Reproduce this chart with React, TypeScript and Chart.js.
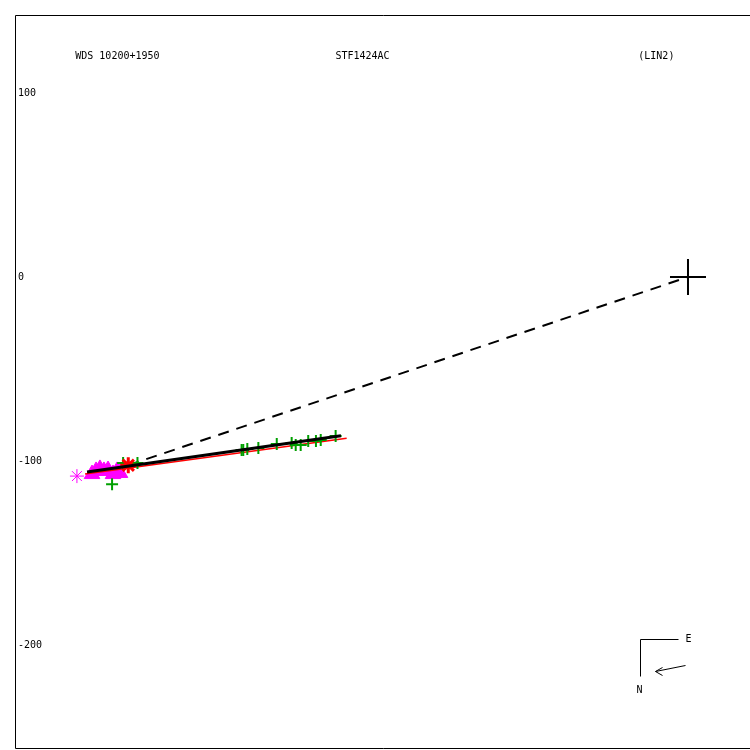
import React, { useEffect, useRef } from "react";
import { Chart, registerables } from "chart.js";

Chart.register(...registerables);

const HEADER_TEXTS = ["WDS 10200+1950", "STF1424AC", "(LIN2)"];
const Y_TICKS = [100, 0, -100, -200];

const PRIMARY = [{ x: 0, y: 0 }];
const FIRST_OBS = [{ x: -332.1, y: -108.2 }];
const MAGENTA_TRI = [
  { x: -323.9, y: -107.1 },
  { x: -321.7, y: -105.4 },
  { x: -319.6, y: -104.3 },
  { x: -317.4, y: -105.4 },
  { x: -315.2, y: -104.9 },
  { x: -312.5, y: -107.1 },
  { x: -310.3, y: -105.4 },
  { x: -308.7, y: -106.5 },
];
const RED_STAR = [{ x: -304.2, y: -102.3 }];
const GREEN_CROSS = [
  { x: -313.0, y: -112.7 },
  { x: -307.0, y: -101.1 },
  { x: -299.2, y: -101.1 },
  { x: -242.6, y: -94.0 },
  { x: -241.7, y: -94.0 },
  { x: -239.5, y: -93.5 },
  { x: -233.5, y: -92.9 },
  { x: -223.5, y: -90.8 },
  { x: -215.4, y: -90.2 },
  { x: -213.2, y: -91.3 },
  { x: -210.5, y: -91.3 },
  { x: -206.4, y: -89.1 },
  { x: -202.2, y: -89.1 },
  { x: -199.6, y: -88.6 },
  { x: -191.5, y: -86.4 },
];
const FIT_LINE = [
  { x: -326.6, y: -106.0 },
  { x: -188.6, y: -86.3 },
];
const RED_LINE = [
  { x: -327.7, y: -107.1 },
  { x: -185.5, y: -87.6 },
];
const DASHED_LINE = [
  { x: -304.2, y: -102.3 },
  { x: 0, y: 0 },
];
const COMPASS_ORIGIN = { x: -26.1, y: -196.7 };

const X_MIN = -365.76;
const X_MAX = 33.7;
const Y_MIN = -256.52;
const Y_MAX = 142.39;

const FONT = "10px 'DejaVu Sans Mono', monospace";

const framePlugin = {
  id: "frame",
  afterDraw(chart: any) {
    const { ctx, chartArea } = chart;
    const xs = chart.scales.x;
    const ys = chart.scales.y;
    ctx.save();
    ctx.strokeStyle = "#000";
    ctx.lineWidth = 1;
    ctx.beginPath();
    ctx.moveTo(chartArea.right + 2, chartArea.top + 0.5);
    ctx.lineTo(chartArea.left + 0.5, chartArea.top + 0.5);
    ctx.lineTo(chartArea.left + 0.5, chartArea.bottom - 0.5);
    ctx.lineTo(chartArea.right + 2, chartArea.bottom - 0.5);
    ctx.stroke();

    // header texts
    ctx.fillStyle = "#000";
    ctx.font = FONT;
    ctx.textBaseline = "middle";
    ctx.textAlign = "left";
    const w = chartArea.right - chartArea.left;
    const fr = [0.082, 0.436, 0.848];
    HEADER_TEXTS.forEach((t, i) => {
      ctx.fillText(t, chartArea.left + fr[i] * w, chartArea.top + 41);
    });

    // compass
    const ox = Math.round(xs.getPixelForValue(COMPASS_ORIGIN.x)) + 0.5;
    const oy = Math.round(ys.getPixelForValue(COMPASS_ORIGIN.y)) + 0.5;
    ctx.beginPath();
    ctx.moveTo(ox + 38, oy);
    ctx.lineTo(ox, oy);
    ctx.lineTo(ox, oy + 37);
    ctx.stroke();
    ctx.beginPath();
    ctx.moveTo(ox + 45, oy + 26);
    ctx.lineTo(ox + 15, oy + 32);
    ctx.moveTo(ox + 22, oy + 28);
    ctx.lineTo(ox + 15, oy + 32);
    ctx.lineTo(ox + 22, oy + 36);
    ctx.stroke();
    ctx.fillText("E", ox + 45, oy);
    ctx.fillText("N", ox - 4, oy + 51);
    ctx.restore();
  },
};

export default function App() {
  const ref = useRef<HTMLCanvasElement | null>(null);
  useEffect(() => {
    if (!ref.current) return;
    const chart = new Chart(ref.current, {
      type: "scatter",
      data: {
        datasets: [
          {
            data: FIT_LINE,
            showLine: true,
            borderColor: "#000",
            borderWidth: 3,
            pointRadius: 0,
            order: 0,
          },
          {
            data: RED_STAR,
            pointStyle: "star",
            pointRadius: 8,
            borderColor: "#ff0000",
            backgroundColor: "#ff0000",
            borderWidth: 3,
            order: 1,
          },
          {
            data: GREEN_CROSS,
            pointStyle: "cross",
            pointRadius: 6,
            borderColor: "#00a000",
            borderWidth: 2,
            order: 2,
          },
          {
            data: RED_LINE,
            showLine: true,
            borderColor: "#ff0000",
            borderWidth: 1.5,
            pointRadius: 0,
            order: 3,
          },
          {
            data: MAGENTA_TRI,
            pointStyle: "triangle",
            pointRadius: 9,
            borderColor: "#ff00ff",
            backgroundColor: "#ff00ff",
            borderWidth: 1,
            order: 4,
          },
          {
            data: FIRST_OBS,
            pointStyle: "star",
            pointRadius: 7,
            borderColor: "#ff00ff",
            borderWidth: 1,
            order: 4,
          },
          {
            data: DASHED_LINE,
            showLine: true,
            borderColor: "#000",
            borderWidth: 2,
            borderDash: [11, 8],
            pointRadius: 0,
            order: 5,
          },
          {
            data: PRIMARY,
            pointStyle: "cross",
            pointRadius: 18,
            borderColor: "#000",
            borderWidth: 2,
            order: 5,
          },
        ],
      },
      options: {
        responsive: false,
        animation: false,
        devicePixelRatio: 1,
        layout: { autoPadding: false, padding: { left: 15, top: 15, right: 0, bottom: 1 } },
        plugins: {
          legend: { display: false },
          tooltip: { enabled: false },
          title: { display: false },
        },
        scales: {
          x: { type: "linear", display: false, min: X_MIN, max: X_MAX },
          y: {
            type: "linear",
            min: Y_MIN,
            max: Y_MAX,
            grid: { display: false, drawTicks: false },
            border: { display: false },
            afterFit: (s: any) => {
              s.width = 0;
              s.paddingTop = 0;
              s.paddingBottom = 0;
              s.paddingLeft = 0;
              s.paddingRight = 0;
            },
            afterBuildTicks: (s: any) => {
              s.ticks = Y_TICKS.map((v) => ({ value: v }));
            },
            ticks: {
              mirror: true,
              padding: 3,
              color: "#000",
              font: { family: "'DejaVu Sans Mono', monospace", size: 10 },
              callback: (v: any) => String(v),
            },
          },
        },
      },
      plugins: [framePlugin],
    });
    return () => chart.destroy();
  }, []);
  return (
    <div
      style={{
        position: "fixed",
        left: 0,
        top: 0,
        width: 750,
        height: 750,
        overflow: "hidden",
        background: "#fff",
      }}
    >
      <canvas ref={ref} width={750} height={750} style={{ display: "block" }} />
    </div>
  );
}
